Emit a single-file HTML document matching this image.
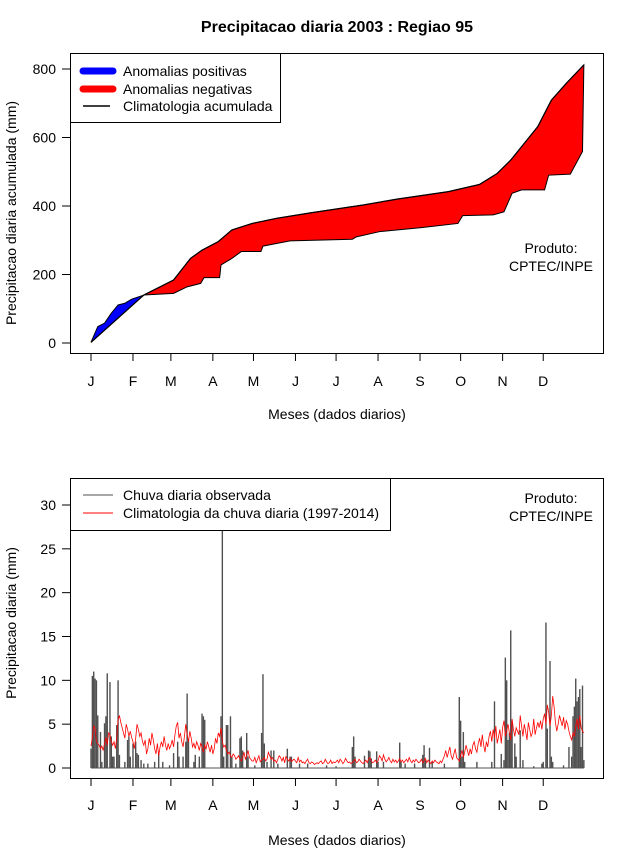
<!DOCTYPE html>
<html><head><meta charset="utf-8"><style>
body{margin:0;background:#fff;}
svg{display:block;font-family:"Liberation Sans",Arial,sans-serif;}
</style></head><body>
<svg id="chart" width="640" height="850" viewBox="0 0 640 850" xmlns="http://www.w3.org/2000/svg">
<text x="337" y="32" text-anchor="middle" font-size="16" font-weight="bold">Precipitacao diaria 2003 : Regiao 95</text>
<g id="topPanel"></g>
<g id="botPanel"></g>
</svg>
<script>
// ---- top panel data: cumulative precipitation (day, mm)
const climCumDays = [1,40,62,74.5,83,95,105,120,138,163,202,227,265,288,301,311,331,341,352,365];
const climCumVals = [2,140,184,247,271,296,330,349,364,380,403,420,442,463,495,534,632,709,758,812];
const obsCumDays = [1,6,11,16,21,26,31,40,62,72,82,84.5,96,97,105,112,126.5,128,148,194,197,214,245,272,275.5,298,306,312,319,336,339,355,364];
const obsCumVals = [2,48,58,87,111,116,128,140,145,164,174,191,191,228,247,267,267,283,298,303,310,325,337,349,372,374,383,437,447,447,490,493,559];
const monthLabels = ["J","F","M","A","M","J","J","A","S","O","N","D"];
const monthStartDays = [1,32,60,91,121,152,182,213,244,274,305,335];
const topTicks = [0,200,400,600,800];
const botTicks = [0,5,10,15,20,25,30];
// ---- bottom panel data
const climDaily = [2.5,3.5,4.8,4.5,3,2.8,2.6,2.2,2.5,2.0,2.8,3.5,2.6,4,3.8,3,2.6,3,2.2,3.4,5.5,6,5.2,4.6,4,3.4,5,4.4,3.6,4.2,3.5,
3,2.2,3.4,5,4.4,3.6,4,3,2.6,3.2,1.6,2.2,3.4,2.6,4,3.2,2.2,1.6,2.8,1.4,2.4,3,2.4,3.6,2.6,2,2.8,2.2,
2.6,3.2,2.4,3.8,4.8,5.2,3.4,4,3,2.4,3.6,5,3.8,3,4.2,3.4,2.4,2.8,2.2,3,2.6,2,2.8,2.4,1.8,2.6,2.2,3,2.4,1.8,2.6,
1.6,2.2,3.4,2.8,4,3.6,4.6,3,2.4,2.6,2,1.6,1.8,1.4,1.2,1.6,1.4,1.0,1.2,1.4,1.0,0.8,1.2,1.8,1.0,1.4,2.0,1.2,1.0,0.8,
0.8,1.2,0.6,1.0,1.4,0.7,0.9,1.0,1.2,0.8,1.0,1.8,1.4,1.0,1.2,0.8,0.9,0.6,1.0,1.4,1.2,0.8,1.2,0.6,1.3,1.0,0.8,1.1,0.7,0.9,1.0,
0.8,0.6,1.2,0.7,0.9,0.6,0.7,0.5,0.8,1.0,0.6,0.5,0.7,0.6,0.4,0.5,0.6,0.5,0.7,0.8,0.5,0.6,1.0,0.7,0.5,0.6,0.9,0.5,0.7,0.6,
0.7,0.9,0.6,1.0,0.8,0.5,0.7,1.1,0.8,0.6,0.7,0.5,0.6,0.8,1.0,0.6,0.7,1.0,0.8,0.6,0.5,0.7,0.9,0.6,1.0,1.2,0.8,0.6,0.7,0.9,0.6,
0.8,1.4,1.2,0.8,1.5,1.0,0.7,0.9,1.2,0.8,0.6,1.0,0.7,0.9,0.6,0.8,1.1,0.7,0.9,0.6,0.8,1.0,0.7,1.2,0.8,0.6,0.9,0.7,1.0,0.8,0.6,
0.7,1.0,0.6,0.8,1.1,0.6,0.9,0.7,0.5,0.8,0.6,0.9,0.7,0.6,0.5,0.8,0.6,1.0,1.4,2.0,1.2,1.8,2.4,1.4,1.0,1.6,2.2,1.2,1.0,0.8,
1.4,2.0,1.2,1.8,2.6,2.0,1.4,2.2,1.6,2.6,3.0,2.2,1.8,2.8,3.4,2.4,3.8,2.6,1.8,3.0,2.4,3.6,4.2,3.0,4.4,3.4,4.8,2.8,3.6,4.4,2.8,
4.6,5.4,3.6,4.2,5.0,4.0,3.2,5.6,4.4,3.6,4.6,4.2,3.8,6.0,4.8,3.6,5.0,4.2,3.2,5.2,4.4,3.6,4.0,5.6,3.8,4.6,5.2,4.6,5.4,4.4,
5.6,6.2,5.0,7.2,6.4,4.8,6.0,8.2,7.0,5.2,4.2,5.0,6.0,5.4,4.8,5.8,4.4,5.4,5.0,4.2,3.6,3.2,4.0,3.6,4.8,5.6,4.4,6.0,4.6,4.2,4.0];
const obsDays = [1,2,3,4,5,6,8,9,11,12,13,15,16,17,18,20,21,22,26,28,29,30,32,34,35,36,38,40,43,48,51,54,59,62,65,66,69,71,72,73,77,78,81,83,84,85,97,98,99,101,102,104,105,108,111,112,113,116,117,122,127,128,129,131,134,136,139,146,148,149,155,161,175,182,
194,195,196,203,206,207,208,212,213,217,229,230,233,240,246,247,248,251,253,262,273,274,275,276,277,286,297,299,304,306,307,308,309,310,311,312,314,315,318,320,328,334,335,337,338,340,341,342,350,354,356,357,358,359,360,361,362,363,364,365];
const obsVals = [2.2,10.5,11,10.2,10,6,4.1,0.7,5.1,5.9,10.8,9.8,3.6,1.3,1.3,4.9,10,1.5,0.7,3.2,3.6,1.3,2.8,3,1.7,1.5,0.9,0.5,0.5,0.7,1.9,0.7,0.3,1.7,3,1.3,1.3,3,8.5,3.2,0.7,1.5,1.3,6.2,5.9,5.5,5.9,27.1,1.3,4.9,4.9,5.9,1.3,0.5,3.4,3.6,2,4,1.3,0.3,4,10.7,2.8,0.7,2,2,0.5,2.2,1.3,1.3,0.5,0.5,0.3,0.2,
2.4,3.6,1.3,1.4,2,1.9,1.1,1.9,0.7,0.7,2.9,0.7,0.5,0.5,1.5,2.6,0.9,2.3,0.7,0.5,8.1,5.4,1.3,4.1,0.7,0.7,0.7,7.6,1.6,0.9,12.6,10,3.2,4,15.7,5.1,2.8,1.3,4.3,0.9,0.2,0.5,0.7,16.6,4.5,12.2,1.3,0.7,0.3,2.4,1.3,5.9,7,10.2,7.6,8.1,9,2.4,9.4,0.9];

const NS = "http://www.w3.org/2000/svg";
function mk(parent, tag, attrs){const e=document.createElementNS(NS,tag);for(const k in attrs)e.setAttribute(k,attrs[k]);parent.appendChild(e);return e;}
const xDay = d => 91 + (d-1)*1.354;
const yTop = v => 343 - v*0.3425;
const yBot = v => 768 - v*8.767;

// ---------- TOP PANEL
const topG = document.getElementById('topPanel');
const splitC = climCumDays.indexOf(40), splitO = obsCumDays.indexOf(40);
const bluePts = [];
for(let i=0;i<=splitC;i++) bluePts.push(xDay(climCumDays[i])+','+yTop(climCumVals[i]));
for(let i=splitO;i>=0;i--) bluePts.push(xDay(obsCumDays[i])+','+yTop(obsCumVals[i]));
const bp = mk(topG,'polygon',{points:bluePts.join(' '),fill:'#0000ff',stroke:'#000','stroke-width':'1'});


const redPts = [];
for(let i=splitC;i<climCumDays.length;i++) redPts.push(xDay(climCumDays[i])+','+yTop(climCumVals[i]));
for(let i=obsCumDays.length-1;i>=splitO;i--) redPts.push(xDay(obsCumDays[i])+','+yTop(obsCumVals[i]));
const rp = mk(topG,'polygon',{points:redPts.join(' '),fill:'#ff0000',stroke:'#000','stroke-width':'1'});


const cl = mk(topG,'polyline',{points:climCumDays.map((d,i)=>xDay(d)+','+yTop(climCumVals[i])).join(' '),fill:'none',stroke:'#000','stroke-width':'1.2'});



function frame(g,y1,y2,name){
  const r = mk(g,'rect',{x:70.5,y:y1+.5,width:533,height:y2-y1,fill:'none',stroke:'#000','stroke-width':'1'});
  
  
}
function xAxis(g,yAx,yLab,name){
  const a = mk(g,'g',{});
  
  
  monthStartDays.forEach((d,i)=>{
    mk(a,'line',{x1:xDay(d),x2:xDay(d),y1:yAx,y2:yAx+8,stroke:'#000'});
    const t = mk(a,'text',{x:xDay(d),y:yLab,'text-anchor':'middle','font-size':'14'});
    t.textContent = monthLabels[i];
    
    
  });
}
function yAxis(g,ticks,yf,name){
  const a = mk(g,'g',{});
  
  
  ticks.forEach(v=>{
    mk(a,'line',{x1:62,x2:70,y1:yf(v),y2:yf(v),stroke:'#000'});
    const t = mk(a,'text',{x:56,y:yf(v)+5,'text-anchor':'end','font-size':'14'});
    t.textContent = v;
    
    
  });
}
frame(topG,53,353,'top-plot-frame');
xAxis(topG,353,386,'top-x-axis');
yAxis(topG,topTicks,yTop,'top-y-axis');

// ---------- BOTTOM PANEL
const botG = document.getElementById('botPanel');
obsDays.forEach((d,i)=>{
  const b = mk(botG,'line',{x1:xDay(d),x2:xDay(d),y1:yBot(0),y2:yBot(obsVals[i]),stroke:'#505050','stroke-width':'1.4'});
  
  
});
const cd = mk(botG,'polyline',{points:climDaily.map((v,i)=>xDay(i+1)+','+yBot(v)).join(' '),fill:'none',stroke:'#ff0000','stroke-width':'0.8'});


mk(botG,'line',{x1:xDay(1),x2:xDay(365),y1:yBot(0),y2:yBot(0),stroke:'#505050','stroke-width':'1'});
frame(botG,478,778,'bottom-plot-frame');
xAxis(botG,778,810,'bottom-x-axis');
yAxis(botG,botTicks,yBot,'bottom-y-axis');
</script>
<div style="position:absolute;left:0;top:0;width:640px;height:850px;pointer-events:none;">
<svg width="640" height="850" style="position:absolute;left:0;top:0" font-family="Liberation Sans, Arial, sans-serif">
  <g>
    <rect x="70.5" y="53.5" width="210" height="69" fill="#fff" stroke="#000"/>
    <line x1="83" y1="71" x2="113" y2="71" stroke="#0000ff" stroke-width="7" stroke-linecap="round"/>
    <text x="123" y="76" font-size="14">Anomalias positivas</text>
    <line x1="83" y1="89" x2="113" y2="89" stroke="#ff0000" stroke-width="7" stroke-linecap="round"/>
    <text x="123" y="94" font-size="14">Anomalias negativas</text>
    <line x1="83" y1="106" x2="110" y2="106" stroke="#000" stroke-width="1.5"/>
    <text x="123" y="111" font-size="14">Climatologia acumulada</text>
  </g>
  <text x="551" y="253" text-anchor="middle" font-size="14">Produto:</text>
  <text x="551" y="271" text-anchor="middle" font-size="14">CPTEC/INPE</text>
  <text transform="translate(16,213) rotate(-90)" text-anchor="middle" font-size="14">Precipitacao diaria acumulada (mm)</text>
  <text x="337" y="419" text-anchor="middle" font-size="14">Meses (dados diarios)</text>
  <g>
    <rect x="70.5" y="478.5" width="320" height="52" fill="#fff" stroke="#000"/>
    <line x1="83" y1="495" x2="113" y2="495" stroke="#505050" stroke-width="1"/>
    <text x="123" y="500" font-size="14">Chuva diaria observada</text>
    <line x1="83" y1="513" x2="113" y2="513" stroke="#ff0000" stroke-width="1"/>
    <text x="123" y="518" font-size="14">Climatologia da chuva diaria (1997-2014)</text>
  </g>
  <text x="551" y="503" text-anchor="middle" font-size="14">Produto:</text>
  <text x="551" y="521" text-anchor="middle" font-size="14">CPTEC/INPE</text>
  <text transform="translate(16,623) rotate(-90)" text-anchor="middle" font-size="14">Precipitacao diaria (mm)</text>
  <text x="337" y="845" text-anchor="middle" font-size="14">Meses (dados diarios)</text>
</svg>
</div>
</body></html>
